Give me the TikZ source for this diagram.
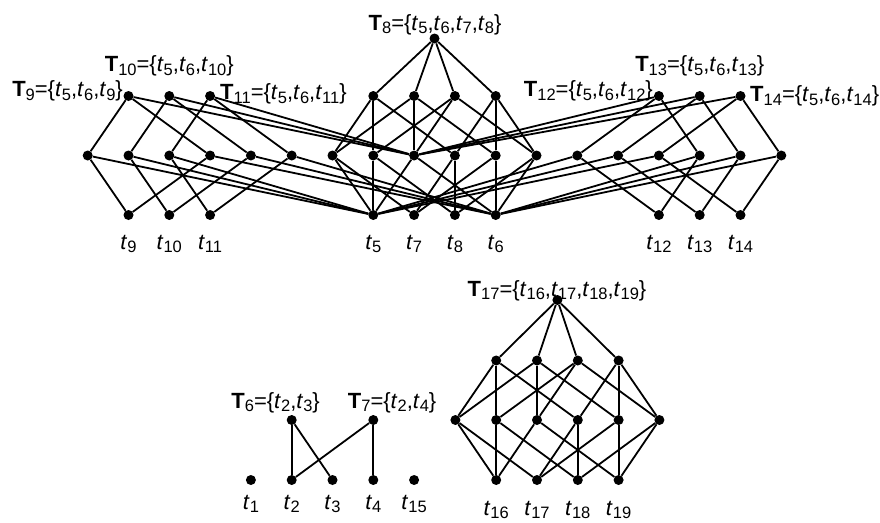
\documentclass[tikz,border=0pt]{standalone}
\usepackage{fontspec}
\setmainfont{Liberation Sans}
\newcommand{\Tx}[1]{\textbf{T}\raisebox{-3.5pt}{\fontsize{16.5}{18}\selectfont #1}}
\newcommand{\tx}[1]{\textit{t}\raisebox{-3.5pt}{\fontsize{16.5}{18}\selectfont #1}}
% Boolean lattice of a 4-set without the empty set
% #1 prefix, #2 x of first singleton, #3..#6 y of the four levels
\newcommand{\blat}[6]{%
  \node[dot] (#1top) at ({#2+61.2},#3) {};
  \node[dot] (#1A) at (#2,#4) {};
  \node[dot] (#1B) at ({#2+40.8},#4) {};
  \node[dot] (#1C) at ({#2+81.6},#4) {};
  \node[dot] (#1D) at ({#2+122.4},#4) {};
  \node[dot] (#1a) at ({#2-40.8},#5) {};
  \node[dot] (#1b) at (#2,#5) {};
  \node[dot] (#1c) at ({#2+40.8},#5) {};
  \node[dot] (#1d) at ({#2+81.6},#5) {};
  \node[dot] (#1e) at ({#2+122.4},#5) {};
  \node[dot] (#1f) at ({#2+163.2},#5) {};
  \node[dot] (#1s1) at (#2,#6) {};
  \node[dot] (#1s2) at ({#2+40.8},#6) {};
  \node[dot] (#1s3) at ({#2+81.6},#6) {};
  \node[dot] (#1s4) at ({#2+122.4},#6) {};
  \foreach \p/\q in {top/A,top/B,top/C,top/D,A/a,A/b,A/d,B/a,B/c,B/e,C/b,C/c,C/f,D/d,D/e,D/f,a/s1,a/s2,b/s1,b/s3,c/s1,c/s4,d/s2,d/s3,e/s2,e/s4,f/s3,f/s4}
    \draw[edge] (#1\p) -- (#1\q);
}
\begin{document}
\begin{tikzpicture}[x=1pt,y=-1pt,
  dot/.style={circle,fill=black,inner sep=0pt,minimum size=10pt},
  edge/.style={line width=1.8pt,black},
  lbl/.style={font=\fontsize{22}{26}\selectfont,inner sep=0pt,anchor=base}]
\fill[white] (0,0) rectangle (880,522);
\useasboundingbox (0,0) rectangle (880,522);

% centre lattice T8 (t5,t7,t8,t6)
\blat{c}{373.3}{38.5}{96}{155.5}{215}
% bottom lattice T17
\blat{g}{496.2}{300}{360.5}{420}{480}

% left group T9, T10, T11
\node[dot] (L1top) at (128.5,96) {};
\node[dot] (L2top) at (169.3,96) {};
\node[dot] (L3top) at (210.1,96) {};
\node[dot] (L1p) at (87.7,155.5) {};
\node[dot] (L2p) at (128.5,155.5) {};
\node[dot] (L3p) at (169.3,155.5) {};
\node[dot] (L1q) at (210.1,155.5) {};
\node[dot] (L2q) at (250.9,155.5) {};
\node[dot] (L3q) at (291.7,155.5) {};
\node[dot] (L1t) at (128.5,215) {};
\node[dot] (L2t) at (169.3,215) {};
\node[dot] (L3t) at (210.1,215) {};
% right group T12, T13, T14
\node[dot] (R1top) at (658.9,96) {};
\node[dot] (R2top) at (699.7,96) {};
\node[dot] (R3top) at (740.5,96) {};
\node[dot] (R1p) at (577.3,155.5) {};
\node[dot] (R2p) at (618.1,155.5) {};
\node[dot] (R3p) at (658.9,155.5) {};
\node[dot] (R1q) at (699.7,155.5) {};
\node[dot] (R2q) at (740.5,155.5) {};
\node[dot] (R3q) at (781.3,155.5) {};
\node[dot] (R1t) at (658.9,215) {};
\node[dot] (R2t) at (699.7,215) {};
\node[dot] (R3t) at (740.5,215) {};
\foreach \g in {L1,L2,L3,R1,R2,R3}{
  \draw[edge] (\g top) -- (\g p);
  \draw[edge] (\g top) -- (\g q);
  \draw[edge] (\g top) -- (cc);
  \draw[edge] (\g p) -- (\g t);
  \draw[edge] (\g q) -- (\g t);
  \draw[edge] (\g p) -- (cs1);
  \draw[edge] (\g q) -- (cs4);
}

% small lattice T6, T7
\node[dot] (T6) at (291.7,420) {};
\node[dot] (T7) at (373.3,420) {};
\node[dot] (u1) at (250.9,480) {};
\node[dot] (u2) at (291.7,480) {};
\node[dot] (u3) at (332.5,480) {};
\node[dot] (u4) at (373.3,480) {};
\node[dot] (u15) at (414.1,480) {};
\draw[edge] (T6) -- (u2);
\draw[edge] (T6) -- (u3);
\draw[edge] (T7) -- (u2);
\draw[edge] (T7) -- (u4);

% set labels
\node[lbl] (lT8) at (435,30) {\Tx{8}=\{\tx{5},\tx{6},\tx{7},\tx{8}\}};
\node[lbl,anchor=base east] (lT9) at (123,96.5) {\Tx{9}=\{\tx{5},\tx{6},\tx{9}\}};
\node[lbl] (lT10) at (169.3,71.5) {\Tx{10}=\{\tx{5},\tx{6},\tx{10}\}};
\node[lbl,anchor=base west] (lT11) at (220,99.5) {\Tx{11}=\{\tx{5},\tx{6},\tx{11}\}};
\node[lbl,anchor=base east] (lT12) at (653,96.5) {\Tx{12}=\{\tx{5},\tx{6},\tx{12}\}};
\node[lbl] (lT13) at (699.7,71.5) {\Tx{13}=\{\tx{5},\tx{6},\tx{13}\}};
\node[lbl,anchor=base west] (lT14) at (750,101.5) {\Tx{14}=\{\tx{5},\tx{6},\tx{14}\}};
\node[lbl] (lT17) at (557,296) {\Tx{17}=\{\tx{16},\tx{17},\tx{18},\tx{19}\}};
\node[lbl,anchor=base east] (lT6) at (320,408) {\Tx{6}=\{\tx{2},\tx{3}\}};
\node[lbl,anchor=base east] (lT7) at (436.5,408) {\Tx{7}=\{\tx{2},\tx{4}\}};

% element labels
\node[lbl] (n9) at (128.5,249) {\tx{9}};
\node[lbl] (n10) at (169.3,249) {\tx{10}};
\node[lbl] (n11) at (210.1,249) {\tx{11}};
\node[lbl] (n5) at (373.3,249) {\tx{5}};
\node[lbl] (n7) at (414.1,249) {\tx{7}};
\node[lbl] (n8) at (454.9,249) {\tx{8}};
\node[lbl] (n6) at (495.7,249) {\tx{6}};
\node[lbl] (n12) at (658.9,249) {\tx{12}};
\node[lbl] (n13) at (699.7,249) {\tx{13}};
\node[lbl] (n14) at (740.5,249) {\tx{14}};
\node[lbl] (n1) at (250.9,509) {\tx{1}};
\node[lbl] (n2) at (291.7,509) {\tx{2}};
\node[lbl] (n3) at (332.5,509) {\tx{3}};
\node[lbl] (n4) at (373.3,509) {\tx{4}};
\node[lbl] (n15) at (414.1,509) {\tx{15}};
\node[lbl] (n16) at (496.2,515) {\tx{16}};
\node[lbl] (n17) at (537,515) {\tx{17}};
\node[lbl] (n18) at (577.8,515) {\tx{18}};
\node[lbl] (n19) at (618.6,515) {\tx{19}};
\end{tikzpicture}
\end{document}
